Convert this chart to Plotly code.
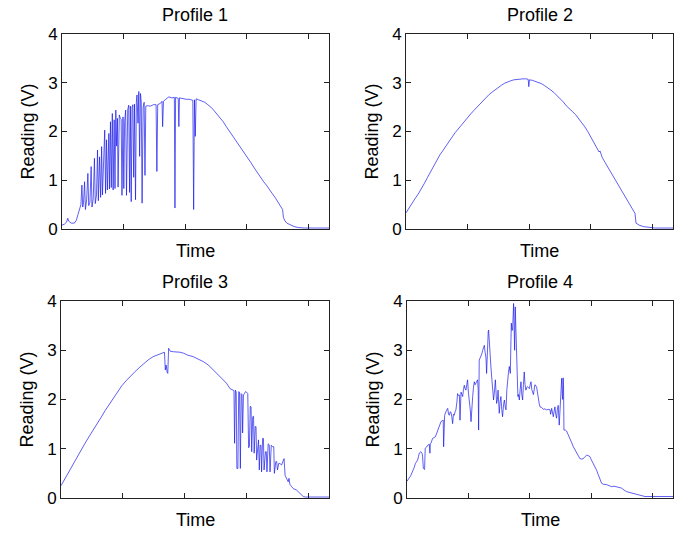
import plotly.graph_objects as go

# ---------------- data (time in hours, reading in volts) ----------------
t1 = [6.00, 6.12, 6.22, 6.28, 6.33, 6.45, 6.60, 6.70, 6.78, 6.86, 6.92, 6.97, 7.01, 7.05, 7.10, 7.14,
      7.20, 7.26, 7.30, 7.36, 7.42, 7.46, 7.52, 7.58, 7.62, 7.68, 7.73, 7.77, 7.83, 7.88, 7.93, 7.97,
      8.03, 8.08, 8.12, 8.17, 8.21, 8.28, 8.31, 8.36, 8.40, 8.45, 8.49, 8.54, 8.58, 8.62, 8.66, 8.70,
      8.73, 8.79, 8.84, 8.88, 8.92, 8.97, 9.01, 9.05, 9.10, 9.14, 9.20, 9.25, 9.29, 9.33, 9.37, 9.41,
      9.45, 9.49, 9.53, 9.58, 9.62, 9.65, 9.70, 9.74, 9.78, 9.82, 9.86, 9.90, 9.95, 10.00, 10.04, 10.08,
      10.15, 10.30, 10.45, 10.58, 10.62, 10.66, 10.80, 10.87, 10.90, 10.94, 11.05, 11.20, 11.35, 11.47,
      11.50, 11.53, 11.66, 11.69, 11.72, 11.90, 12.05, 12.20, 12.37, 12.41, 12.45, 12.49, 12.53, 12.65,
      12.80, 12.95, 13.10, 13.25, 13.40, 13.55, 13.70, 13.85, 14.00, 14.15, 14.30, 14.45, 14.60, 14.75,
      14.90, 15.05, 15.20, 15.35, 15.50, 15.65, 15.80, 15.95, 16.10, 16.25, 16.40, 16.55, 16.68, 16.74,
      16.78, 16.85, 16.95, 17.10, 17.30, 17.50, 17.80, 18.40, 19.00]
v1 = [0.08, 0.10, 0.14, 0.22, 0.16, 0.12, 0.12, 0.18, 0.30, 0.45, 0.50, 0.90, 0.45, 0.55, 0.97, 0.40,
      0.60, 1.14, 0.48, 0.55, 1.28, 0.45, 0.62, 1.45, 0.52, 0.70, 1.62, 0.58, 1.48, 0.65, 1.69, 0.70,
      1.30, 2.03, 0.73, 1.83, 0.80, 1.96, 0.82, 2.20, 0.85, 2.37, 0.80, 2.24, 0.83, 2.44, 1.70, 2.27,
      0.86, 2.34, 2.27, 2.25, 0.69, 2.30, 0.83, 2.20, 2.44, 0.69, 2.45, 2.54, 0.75, 2.52, 0.56, 2.50,
      2.55, 1.06, 2.56, 0.60, 2.60, 2.75, 2.17, 2.82, 1.49, 2.78, 2.60, 0.53, 2.50, 2.60, 1.10, 2.52,
      2.53, 2.52, 2.55, 2.55, 1.18, 2.55, 2.58, 2.62, 2.10, 2.62, 2.66, 2.71, 2.69, 2.70,
      0.43, 2.70, 2.68, 2.10, 2.69, 2.67, 2.66, 2.66, 2.64, 0.40, 2.65, 1.90, 2.67, 2.65,
      2.63, 2.60, 2.55, 2.50, 2.43, 2.36, 2.28, 2.20, 2.10, 2.01, 1.92, 1.83, 1.74, 1.65,
      1.56, 1.46, 1.36, 1.26, 1.16, 1.06, 0.98, 0.90, 0.82, 0.72, 0.63, 0.53, 0.45, 0.40,
      0.24, 0.17, 0.12, 0.09, 0.05, 0.03, 0.02, 0.02, 0.02]

t2 = [6.00, 6.15, 6.30, 6.45, 6.60, 6.75, 6.90, 7.05, 7.20, 7.35, 7.50, 7.65, 7.80, 7.95, 8.10, 8.25,
      8.40, 8.55, 8.70, 8.85, 9.00, 9.15, 9.30, 9.45, 9.60, 9.75, 9.90, 10.05, 10.20, 10.35, 10.50,
      10.65, 10.80, 10.95, 11.10, 11.25, 11.40, 11.55, 11.70, 11.85, 11.95, 11.98, 12.01, 12.15, 12.30,
      12.45, 12.60, 12.75, 12.90, 13.05, 13.20, 13.35, 13.50, 13.65, 13.80, 13.95, 14.10, 14.25, 14.40,
      14.55, 14.70, 14.85, 15.00, 15.15, 15.30, 15.40, 15.45, 15.55, 15.70, 15.85, 16.00, 16.15, 16.30,
      16.45, 16.60, 16.75, 16.90, 17.05, 17.15, 17.20, 17.35, 17.55, 17.80, 18.10, 19.00]
v2 = [0.33, 0.44, 0.54, 0.63, 0.72, 0.82, 0.94, 1.06, 1.18, 1.30, 1.42, 1.52, 1.61, 1.71, 1.80, 1.89,
      1.98, 2.06, 2.14, 2.22, 2.29, 2.36, 2.43, 2.50, 2.57, 2.64, 2.70, 2.76, 2.81, 2.86, 2.91,
      2.95, 2.99, 3.02, 3.04, 3.06, 3.07, 3.08, 3.08, 3.08, 3.07, 2.92, 3.06, 3.05, 3.03,
      3.01, 2.98, 2.94, 2.90, 2.85, 2.80, 2.74, 2.68, 2.61, 2.53, 2.46, 2.41, 2.35, 2.27,
      2.19, 2.10, 2.00, 1.89, 1.78, 1.66, 1.58, 1.60, 1.47, 1.36, 1.25, 1.14, 1.03, 0.92,
      0.81, 0.70, 0.59, 0.48, 0.38, 0.32, 0.12, 0.08, 0.05, 0.03, 0.02, 0.02]

t3 = [6.00, 6.20, 6.40, 6.60, 6.76, 6.95, 7.15, 7.35, 7.57, 7.75, 7.95, 8.15, 8.37, 8.55, 8.75, 8.95,
      9.18, 9.40, 9.60, 9.83, 10.05, 10.25, 10.47, 10.70, 10.90, 11.02, 11.06, 11.10, 11.15, 11.18,
      11.22, 11.30, 11.45, 11.60, 11.77, 11.95, 12.15, 12.41, 12.65, 12.90, 13.15, 13.35, 13.54, 13.75,
      14.03, 14.20, 14.30, 14.36, 14.39, 14.42, 14.46, 14.50, 14.53, 14.58, 14.62, 14.66, 14.70, 14.74,
      14.78, 14.81, 14.85, 14.90, 14.95, 15.00, 15.06, 15.10, 15.14, 15.18, 15.22, 15.25, 15.30, 15.34,
      15.37, 15.42, 15.46, 15.49, 15.55, 15.58, 15.62, 15.66, 15.70, 15.73, 15.78, 15.82, 15.85, 15.92,
      15.96, 15.99, 16.05, 16.10, 16.14, 16.20, 16.27, 16.32, 16.35, 16.42, 16.46, 16.50, 16.56, 16.62,
      16.70, 16.78, 16.82, 16.87, 16.95, 17.02, 17.06, 17.10, 17.19, 17.27, 17.43, 17.59, 17.75, 17.85,
      18.40, 19.00]
v3 = [0.25, 0.40, 0.55, 0.70, 0.83, 0.97, 1.10, 1.24, 1.38, 1.50, 1.64, 1.78, 1.92, 2.05, 2.18, 2.28,
      2.39, 2.49, 2.57, 2.66, 2.74, 2.81, 2.87, 2.91, 2.95, 2.96, 2.60, 2.70, 2.55, 2.53,
      3.04, 2.98, 2.97, 2.97, 2.96, 2.94, 2.90, 2.87, 2.82, 2.77, 2.70, 2.62, 2.53, 2.44,
      2.33, 2.22, 2.20, 2.19, 2.18, 1.11, 2.19, 2.15, 0.60, 0.60, 2.16, 2.15, 0.60, 2.12,
      2.10, 1.32, 2.09, 2.12, 2.16, 2.15, 2.12, 1.02, 1.04, 1.86, 1.85, 0.94, 1.65, 1.66,
      0.91, 1.45, 1.45, 0.77, 1.18, 1.18, 0.57, 1.07, 1.07, 0.53, 1.21, 1.21, 0.57, 0.94,
      0.94, 0.53, 1.10, 1.08, 0.53, 1.07, 1.04, 1.04, 0.50, 0.74, 0.74, 0.57, 0.70, 0.70,
      0.67, 0.74, 0.80, 0.46, 0.37, 0.33, 0.40, 0.28, 0.23, 0.19, 0.16, 0.09, 0.03, 0.02,
      0.02, 0.02]

t4 = [6.00, 6.05, 6.11, 6.18, 6.24, 6.31, 6.36, 6.41, 6.47, 6.52, 6.56, 6.60, 6.68, 6.74, 6.76, 6.80,
      6.86, 6.89, 6.95, 7.01, 7.09, 7.12, 7.14, 7.17, 7.25, 7.32, 7.38, 7.44, 7.50, 7.58, 7.66, 7.72,
      7.77, 7.79, 7.81, 7.84, 7.90, 7.99, 8.03, 8.07, 8.11, 8.15, 8.19, 8.23, 8.27, 8.31, 8.35, 8.39,
      8.44, 8.47, 8.52, 8.56, 8.59, 8.62, 8.64, 8.68, 8.72, 8.76, 8.80, 8.84, 8.88, 8.92, 8.96, 9.00,
      9.05, 9.09, 9.13, 9.17, 9.21, 9.25, 9.29, 9.33, 9.37, 9.41, 9.45, 9.48, 9.50, 9.53, 9.58, 9.62,
      9.66, 9.70, 9.74, 9.78, 9.82, 9.86, 9.89, 9.92, 9.94, 9.97, 9.99, 10.02, 10.06, 10.10, 10.15, 10.19,
      10.23, 10.28, 10.32, 10.38, 10.42, 10.45, 10.51, 10.55, 10.59, 10.63, 10.67, 10.72, 10.76, 10.80,
      10.84, 10.88, 10.92, 10.96, 11.00, 11.05, 11.08, 11.10, 11.13, 11.16, 11.21, 11.24, 11.26, 11.29,
      11.31, 11.33, 11.37, 11.42, 11.45, 11.49, 11.53, 11.57, 11.61, 11.65, 11.69, 11.73, 11.77, 11.81,
      11.86, 11.90, 11.94, 11.98, 12.02, 12.06, 12.10, 12.14, 12.18, 12.25, 12.30, 12.34, 12.38, 12.42,
      12.46, 12.50, 12.58, 12.66, 12.74, 12.82, 12.90, 12.99, 13.02, 13.07, 13.11, 13.15, 13.19, 13.23,
      13.27, 13.31, 13.35, 13.39, 13.44, 13.48, 13.51, 13.54, 13.56, 13.59, 13.61, 13.63, 13.65, 13.67,
      13.74, 13.80, 13.88, 13.96, 14.05, 14.13, 14.21, 14.29, 14.37, 14.45, 14.53, 14.62, 14.70, 14.78,
      14.86, 14.94, 14.98, 15.02, 15.10, 15.19, 15.27, 15.35, 15.43, 15.51, 15.60, 15.68, 15.76, 15.88,
      16.00, 16.12, 16.25, 16.37, 16.49, 16.61, 16.73, 16.90, 17.06, 17.22, 17.39, 17.63, 18.00, 18.50,
      19.00]
v4 = [0.34, 0.38, 0.41, 0.45, 0.50, 0.57, 0.63, 0.70, 0.74, 0.77, 0.84, 0.91, 0.94, 0.90, 0.85, 0.60,
      0.58, 1.01, 1.03, 1.07, 1.09, 0.91, 1.10, 1.11, 1.21, 1.22, 1.24, 1.30, 1.38, 1.46, 1.55, 1.57,
      1.58, 1.04, 1.40, 1.68, 1.75, 1.82, 1.70, 1.68, 1.75, 1.74, 1.65, 1.51, 1.70, 1.68, 1.75, 1.79,
      1.95, 2.12, 2.08, 2.09, 1.58, 1.90, 2.15, 2.10, 2.06, 2.20, 2.29, 2.22, 2.19, 2.30, 2.40, 2.15,
      1.99, 1.80, 1.55, 1.90, 2.06, 2.25, 2.36, 2.30, 2.33, 2.38, 2.40, 2.20, 1.38, 2.80, 2.84, 2.87,
      2.93, 3.00, 3.05, 3.10, 2.95, 2.85, 2.53, 3.10, 3.21, 3.38, 3.41, 3.14, 2.90, 2.67, 2.40, 2.19,
      1.99, 2.20, 2.40, 1.92, 2.00, 2.19, 1.72, 1.95, 2.06, 1.80, 1.65, 1.90, 1.99, 1.85,
      1.79, 2.20, 2.46, 2.55, 2.67, 2.53, 3.20, 3.55, 3.40, 3.41, 3.95, 3.40, 3.00, 3.88,
      3.50, 3.21, 2.33, 2.06, 2.10, 1.99, 2.20, 2.36, 2.10, 1.99, 2.30, 2.56, 2.30, 2.19,
      2.25, 2.26, 2.24, 2.22, 2.30, 2.36, 2.20, 2.13, 2.10, 2.30, 2.28, 2.24, 2.10, 2.05,
      1.92, 1.85, 1.84, 1.80, 1.81, 1.79, 1.80, 1.79, 1.70, 1.82, 1.75, 1.65, 1.76, 1.85,
      1.70, 1.62, 1.80, 1.88, 1.48, 1.90, 2.19, 2.30, 2.43, 2.10, 2.00, 2.44, 2.30, 1.38,
      1.38, 1.36, 1.27, 1.18, 1.12, 1.04, 0.98, 0.91, 0.85, 0.80, 0.79, 0.80, 0.84, 0.87,
      0.86, 0.84, 0.80, 0.77, 0.70, 0.64, 0.56, 0.47, 0.38, 0.30, 0.28, 0.28, 0.27, 0.25,
      0.23, 0.24, 0.23, 0.22, 0.20, 0.16, 0.13, 0.11, 0.09, 0.07, 0.06, 0.03, 0.03, 0.03,
      0.03]

titles = ["Profile 1", "Profile 2", "Profile 3", "Profile 4"]
x_label = "Time"
y_label = "Reading (V)"
time_ticks = [9, 12, 15, 18]
y_ticks = [0, 1, 2, 3, 4]

# ---------------- layout ----------------
W, H = 689, 534
FONT = "Arial, Liberation Sans, Helvetica, sans-serif"
# axes boxes in window pixels: (left, right, top, bottom)
boxes = [(62, 329, 34, 229), (406, 673, 34, 229), (61, 329, 301, 498), (407, 673, 301, 498)]
series = [(t1, v1), (t2, v2), (t3, v3), (t4, v4)]


def px(x):
    return x / W


def py(y):
    return (H - y) / H


fig = go.Figure()
annotations = []
for i, ((l, r, tp, bt), (tt, vv)) in enumerate(zip(boxes, series)):
    n = "" if i == 0 else str(i + 1)
    fig.add_trace(go.Scatter(x=tt, y=vv, mode="lines", xaxis="x" + n, yaxis="y" + n,
                             line=dict(color="rgb(20,20,235)", width=0.8), opacity=0.85,
                             showlegend=False, hoverinfo="skip"))
    common = dict(showline=True, linecolor="#222", linewidth=1, mirror="ticks", ticks="inside",
                  ticklen=5, tickcolor="#222", showgrid=False, zeroline=False, fixedrange=True,
                  automargin=False)
    fig.update_layout(**{
        "xaxis" + n: dict(domain=[px(l), px(r)], range=[6, 19], tickvals=time_ticks,
                          showticklabels=False, anchor="y" + n, **common),
        "yaxis" + n: dict(domain=[py(bt), py(tp)], range=[0, 4], tickvals=y_ticks, anchor="x" + n,
                          tickfont=dict(family=FONT, size=17, color="black"), **common),
    })
    cx = px((l + r) / 2)
    annotations.append(dict(text=titles[i], x=cx, y=py(tp - 19), xref="paper", yref="paper",
                            showarrow=False, xanchor="center", yanchor="middle",
                            font=dict(family=FONT, size=18, color="black")))
    annotations.append(dict(text=x_label, x=cx, y=py(bt + 22), xref="paper", yref="paper",
                            showarrow=False, xanchor="center", yanchor="middle",
                            font=dict(family=FONT, size=18, color="black")))
    annotations.append(dict(text=y_label, x=px(l - 35), y=py((tp + bt) / 2), xref="paper",
                            yref="paper", showarrow=False, textangle=-90, xanchor="center",
                            yanchor="middle", font=dict(family=FONT, size=18, color="black")))

fig.update_layout(width=W, height=H, margin=dict(l=0, r=0, t=0, b=0),
                  paper_bgcolor="white", plot_bgcolor="white", annotations=annotations)

# remove the default page margin so the figure fills the window exactly
fig.write_html("out.html", config={"displayModeBar": False, "staticPlot": True},
               post_script="document.body.style.margin='0px';document.body.style.overflow='hidden';")
